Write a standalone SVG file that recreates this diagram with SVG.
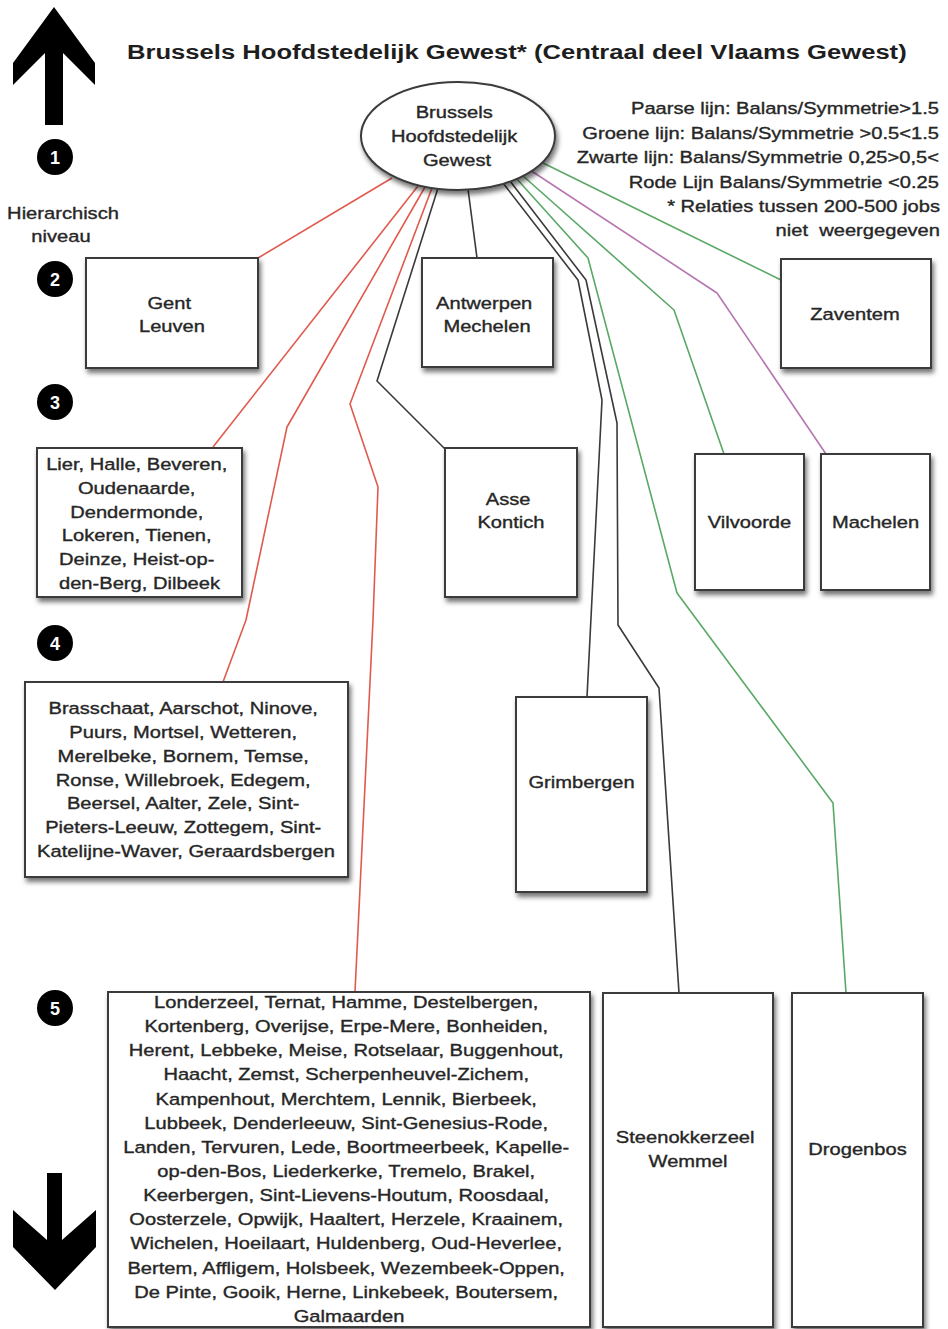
<svg xmlns="http://www.w3.org/2000/svg" width="948" height="1329" viewBox="0 0 948 1329">
  <defs>
    <style>
      .t { font-family: "Liberation Sans", Arial, Helvetica, sans-serif; font-size: 16.5px; fill: #262626; stroke: #262626; stroke-width: 0.35px; text-anchor: middle; }
      .lg { font-family: "Liberation Sans", Arial, Helvetica, sans-serif; font-size: 16.5px; fill: #262626; stroke: #262626; stroke-width: 0.35px; text-anchor: end; }
      .title { font-family: "Liberation Sans", Arial, Helvetica, sans-serif; font-size: 21px; font-weight: bold; fill: #1e1e1e; }
      .box { fill: #ffffff; stroke: #3a3a3a; stroke-width: 2; filter: url(#shadow); }
      .num { fill: #000000; }
      .numt { font-family: "Liberation Sans", Arial, Helvetica, sans-serif; font-size: 18px; font-weight: bold; fill: #ffffff; text-anchor: middle; }
      .c { fill: none; stroke-width: 1.6; stroke-linejoin: round; }
      .red { stroke: #e05a4e; }
      .blk { stroke: #3a3a3a; }
      .grn { stroke: #5aa866; }
      .prp { stroke: #b676b0; }
    </style>
    <filter id="shadow" x="-15%" y="-15%" width="135%" height="135%">
      <feDropShadow dx="2" dy="4" stdDeviation="2.5" flood-color="#000000" flood-opacity="0.55"/>
    </filter>
  </defs>

  <rect x="0" y="0" width="948" height="1329" fill="#ffffff"/>

  <!-- hierarchy arrows -->
  <g id="arrow-up">
    <path d="M54,7 L95,63 L95,85 L63,53 L63,125 L45,125 L45,53 L13,85 L13,63 Z" fill="#000000"/>
  </g>
  <g id="arrow-down">
    <path d="M47,1173 L62,1173 L62,1240 L96,1210 L96,1247 L55,1290 L13,1247 L13,1210 L47,1240 Z" fill="#000000"/>
  </g>

  <!-- title -->
  <text class="title" transform="matrix(1.22 0 0 1 127 59)" x="0" y="0">Brussels Hoofdstedelijk Gewest* (Centraal deel Vlaams Gewest)</text>

  <!-- legend -->
  <g id="legend">
    <text class="lg" transform="matrix(1.22 0 0 1 939 0)" x="0" y="114">Paarse lijn: Balans/Symmetrie&gt;1.5</text>
    <text class="lg" transform="matrix(1.22 0 0 1 939 0)" x="0" y="139">Groene lijn: Balans/Symmetrie &gt;0.5&lt;1.5</text>
    <text class="lg" transform="matrix(1.22 0 0 1 939 0)" x="0" y="163">Zwarte lijn: Balans/Symmetrie 0,25&gt;0,5&lt;</text>
    <text class="lg" transform="matrix(1.22 0 0 1 939 0)" x="0" y="188">Rode Lijn Balans/Symmetrie &lt;0.25</text>
    <text class="lg" transform="matrix(1.22 0 0 1 940 0)" x="0" y="212">* Relaties tussen 200-500 jobs</text>
    <text class="lg" transform="matrix(1.22 0 0 1 940 0)" x="0" y="236" xml:space="preserve">niet  weergegeven</text>
  </g>

  <!-- level markers -->
  <g id="levels">
    <text class="t" transform="matrix(1.22 0 0 1 63 0)" x="0" y="219">Hierarchisch</text>
    <text class="t" transform="matrix(1.22 0 0 1 61 0)" x="0" y="242">niveau</text>
    <circle class="num" cx="55" cy="157" r="18"/>
    <text class="numt" x="55" y="163.5">1</text>
    <circle class="num" cx="55" cy="279" r="18"/>
    <text class="numt" x="55" y="285.5">2</text>
    <circle class="num" cx="55" cy="402" r="18"/>
    <text class="numt" x="55" y="408.5">3</text>
    <circle class="num" cx="55" cy="643" r="18"/>
    <text class="numt" x="55" y="649.5">4</text>
    <circle class="num" cx="55" cy="1008" r="18"/>
    <text class="numt" x="55" y="1014.5">5</text>
  </g>

  <!-- connectors -->
  <g id="connectors">
    <polyline class="c red" points="392,178 258,258"/>
    <polyline class="c red" points="418,186 213,447"/>
    <polyline class="c red" points="425,187 287,427 246,620 223,682"/>
    <polyline class="c red" points="432,188 350,404 378,487 373,620 355,992"/>
    <polyline class="c blk" points="438,188 377,381 445,449"/>
    <polyline class="c blk" points="468,189 477,258"/>
    <polyline class="c blk" points="503,183 578,280 602,400 587,697"/>
    <polyline class="c blk" points="510,181 586,280 617,423 618,625 659,688 679,993"/>
    <polyline class="c grn" points="516,178 588,258 677,593 833,803 846,993"/>
    <polyline class="c grn" points="522,175 674,310 724,454"/>
    <polyline class="c prp" points="530,170 717,293 826,454"/>
    <polyline class="c grn" points="541,162 781,280"/>
  </g>

  <!-- level 1 -->
  <g id="n-brussels">
    <ellipse class="box" cx="458" cy="136" rx="97" ry="54"/>
    <text class="t" transform="matrix(1.22 0 0 1 457 0)">
      <tspan x="0" y="118">Brussels</tspan>
      <tspan x="0" y="142">Hoofdstedelijk</tspan>
      <tspan x="0" y="166">Gewest</tspan>
    </text>
  </g>

  <!-- level 2 -->
  <g id="n-gent-leuven">
    <rect class="box" x="86" y="258" width="172" height="110"/>
    <text class="t" transform="matrix(1.22 0 0 1 172 0)">
      <tspan x="0" y="309">Gent</tspan>
      <tspan x="0" y="332">Leuven</tspan>
    </text>
  </g>
  <g id="n-antwerpen-mechelen">
    <rect class="box" x="422" y="258" width="131" height="109"/>
    <text class="t" transform="matrix(1.22 0 0 1 487 0)">
      <tspan x="0" y="309">Antwerpen</tspan>
      <tspan x="0" y="332">Mechelen</tspan>
    </text>
  </g>
  <g id="n-zaventem">
    <rect class="box" x="781" y="259" width="150" height="109"/>
    <text class="t" transform="matrix(1.22 0 0 1 855 0)" x="0" y="320">Zaventem</text>
  </g>

  <!-- level 3 -->
  <g id="n-lier">
    <rect class="box" x="37" y="448" width="205" height="149"/>
    <text class="t" transform="matrix(1.22 0 0 1 139.5 0)">
      <tspan x="0" y="470">Lier, Halle, Beveren,</tspan>
      <tspan x="0" y="494">Oudenaarde,</tspan>
      <tspan x="0" y="518">Dendermonde,</tspan>
      <tspan x="0" y="541">Lokeren, Tienen,</tspan>
      <tspan x="0" y="565">Deinze, Heist-op-</tspan>
      <tspan x="0" y="589">den-Berg, Dilbeek</tspan>
    </text>
  </g>
  <g id="n-asse-kontich">
    <rect class="box" x="445" y="448" width="132" height="149"/>
    <text class="t" transform="matrix(1.22 0 0 1 511 0)">
      <tspan x="0" y="505">Asse</tspan>
      <tspan x="0" y="528">Kontich</tspan>
    </text>
  </g>
  <g id="n-vilvoorde">
    <rect class="box" x="695" y="454" width="109" height="136"/>
    <text class="t" transform="matrix(1.22 0 0 1 749.5 0)" x="0" y="528">Vilvoorde</text>
  </g>
  <g id="n-machelen">
    <rect class="box" x="821" y="454" width="109" height="136"/>
    <text class="t" transform="matrix(1.22 0 0 1 875.5 0)" x="0" y="528">Machelen</text>
  </g>

  <!-- level 4 -->
  <g id="n-brasschaat">
    <rect class="box" x="25" y="682" width="323" height="195"/>
    <text class="t" transform="matrix(1.22 0 0 1 186 0)">
      <tspan x="0" y="714">Brasschaat, Aarschot, Ninove,</tspan>
      <tspan x="0" y="738">Puurs, Mortsel, Wetteren,</tspan>
      <tspan x="0" y="762">Merelbeke, Bornem, Temse,</tspan>
      <tspan x="0" y="786">Ronse, Willebroek, Edegem,</tspan>
      <tspan x="0" y="809">Beersel, Aalter, Zele, Sint-</tspan>
      <tspan x="0" y="833">Pieters-Leeuw, Zottegem, Sint-</tspan>
      <tspan x="0" y="857">Katelijne-Waver, Geraardsbergen</tspan>
    </text>
  </g>
  <g id="n-grimbergen">
    <rect class="box" x="516" y="697" width="131" height="195"/>
    <text class="t" transform="matrix(1.22 0 0 1 581.5 0)" x="0" y="788">Grimbergen</text>
  </g>

  <!-- level 5 -->
  <g id="n-londerzeel">
    <rect class="box" x="108" y="992" width="482" height="335"/>
    <text class="t" transform="matrix(1.22 0 0 1 349 0)">
      <tspan x="0" y="1008">Londerzeel, Ternat, Hamme, Destelbergen,</tspan>
      <tspan x="0" y="1032.2">Kortenberg, Overijse, Erpe-Mere, Bonheiden,</tspan>
      <tspan x="0" y="1056.3">Herent, Lebbeke, Meise, Rotselaar, Buggenhout,</tspan>
      <tspan x="0" y="1080.5">Haacht, Zemst, Scherpenheuvel-Zichem,</tspan>
      <tspan x="0" y="1104.6">Kampenhout, Merchtem, Lennik, Bierbeek,</tspan>
      <tspan x="0" y="1128.8">Lubbeek, Denderleeuw, Sint-Genesius-Rode,</tspan>
      <tspan x="0" y="1152.9">Landen, Tervuren, Lede, Boortmeerbeek, Kapelle-</tspan>
      <tspan x="0" y="1177.1">op-den-Bos, Liederkerke, Tremelo, Brakel,</tspan>
      <tspan x="0" y="1201.2">Keerbergen, Sint-Lievens-Houtum, Roosdaal,</tspan>
      <tspan x="0" y="1225.4">Oosterzele, Opwijk, Haaltert, Herzele, Kraainem,</tspan>
      <tspan x="0" y="1249.5">Wichelen, Hoeilaart, Huldenberg, Oud-Heverlee,</tspan>
      <tspan x="0" y="1273.7">Bertem, Affligem, Holsbeek, Wezembeek-Oppen,</tspan>
      <tspan x="0" y="1297.8">De Pinte, Gooik, Herne, Linkebeek, Boutersem,</tspan>
      <tspan x="0" y="1322">Galmaarden</tspan>
    </text>
  </g>
  <g id="n-steenokkerzeel-wemmel">
    <rect class="box" x="603" y="993" width="170" height="334"/>
    <text class="t" transform="matrix(1.22 0 0 1 688 0)">
      <tspan x="0" y="1143">Steenokkerzeel</tspan>
      <tspan x="0" y="1167">Wemmel</tspan>
    </text>
  </g>
  <g id="n-drogenbos">
    <rect class="box" x="792" y="993" width="131" height="334"/>
    <text class="t" transform="matrix(1.22 0 0 1 857.5 0)" x="0" y="1155">Drogenbos</text>
  </g>
</svg>
